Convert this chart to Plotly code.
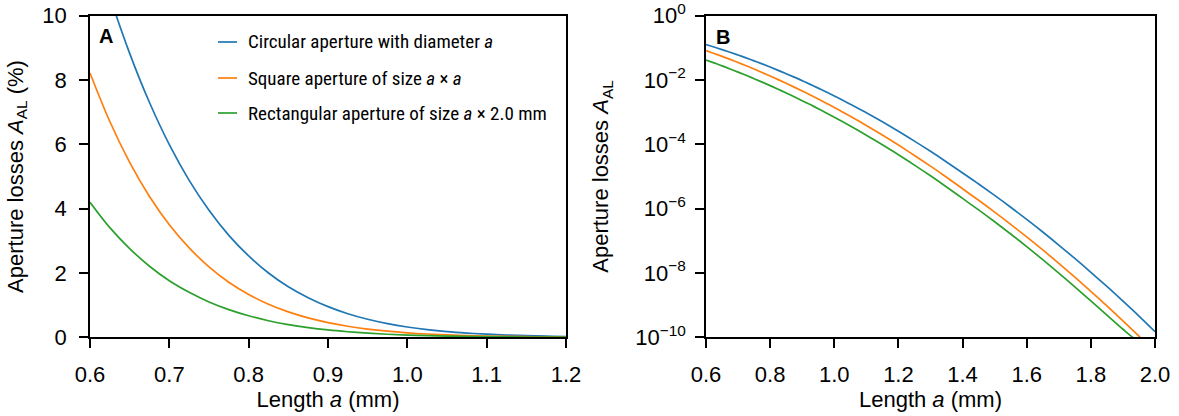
import plotly.graph_objects as go

# Length a (mm)
length_mm = [0.6, 0.625, 0.65, 0.675, 0.7, 0.725, 0.75, 0.775, 0.8, 0.825, 0.85, 0.875, 0.9, 0.925,
             0.95, 0.975, 1.0, 1.025, 1.05, 1.075, 1.1, 1.125, 1.15, 1.175, 1.2,
             1.25, 1.3, 1.35, 1.4, 1.45, 1.5, 1.55, 1.6, 1.65, 1.7, 1.75, 1.8, 1.85, 1.9, 1.95, 2.0]

# Aperture losses (fraction)
loss_circular = [0.126, 0.106, 0.0883, 0.073, 0.0599, 0.0488, 0.0395, 0.0317, 0.0253, 0.02, 0.0157, 0.0123, 0.00953, 0.00733,
                 0.0056, 0.00425, 0.0032, 0.00239, 0.00177, 0.00131, 0.000957, 0.000695, 0.000501, 0.000359, 0.000255,
                 0.000126, 6.07e-05, 2.83e-05, 1.29e-05, 5.85e-06, 2.58e-06, 1.11e-06, 4.63e-07, 1.88e-07, 7.39e-08,
                 2.83e-08, 1.05e-08, 3.80e-09, 1.33e-09, 4.56e-10, 1.50e-10]
loss_square = [0.0822, 0.0671, 0.0544, 0.0438, 0.035, 0.0278, 0.0219, 0.0171, 0.0133, 0.0103, 0.0079, 0.00602, 0.00456, 0.00343,
               0.00256, 0.0019, 0.0014, 0.00102, 0.000743, 0.000537, 0.000385, 0.000274, 0.000194, 0.000136, 9.49e-05,
               4.52e-05, 2.1e-05, 9.47e-06, 4.15e-06, 1.82e-06, 7.82e-07, 3.26e-07, 1.32e-07, 5.20e-08, 2.00e-08,
               7.42e-09, 2.68e-09, 9.45e-10, 3.23e-10, 1.08e-10, 3.48e-11]
loss_rect = [0.042, 0.0341, 0.0276, 0.0221, 0.0176, 0.014, 0.011, 0.00861, 0.00669, 0.00516, 0.00396, 0.00302, 0.00228, 0.00172,
             0.00128, 0.000949, 0.000699, 0.000512, 0.000372, 0.000268, 0.000192, 0.000137, 9.69e-05, 6.8e-05, 4.75e-05,
             2.26e-05, 1.05e-05, 4.73e-06, 2.08e-06, 9.14e-07, 3.91e-07, 1.63e-07, 6.61e-08, 2.60e-08, 9.96e-09,
             3.72e-09, 1.35e-09, 4.88e-10, 1.78e-10, 7.07e-11, 3.48e-11]

series_names = ["Circular aperture with diameter <i>a</i>",
                "Square aperture of size <i>a</i> \u00d7 <i>a</i>",
                "Rectangular aperture of size <i>a</i> \u00d7 2.0 mm"]
colors = ["#1f77b4", "#ff7f0e", "#2ca02c"]

lin_ticks = [0, 2, 4, 6, 8, 10]
xa_ticks = [0.6, 0.7, 0.8, 0.9, 1.0, 1.1, 1.2]
xb_ticks = [0.6, 0.8, 1.0, 1.2, 1.4, 1.6, 1.8, 2.0]
log_exps = [0, -2, -4, -6, -8, -10]

W, H = 1179, 416
def px(X):
    return X / W
def py(Y):
    return 1 - Y / H

FONT = "Liberation Sans"
LEGEND_FONT = "Roboto Condensed, Liberation Sans"
FS = 22

fig = go.Figure()
all_series = [loss_circular, loss_square, loss_rect]
for name, ys, col in zip(series_names, all_series, colors):
    fig.add_trace(go.Scatter(x=length_mm, y=[v * 100 for v in ys], mode="lines", name=name,
                             line=dict(color=col, width=1.7, shape="spline"), showlegend=False,
                             xaxis="x", yaxis="y"))
    fig.add_trace(go.Scatter(x=length_mm, y=ys, mode="lines", name=name,
                             line=dict(color=col, width=1.7, shape="spline"), showlegend=False,
                             xaxis="x2", yaxis="y2"))

ydom = [py(337.3), py(15.7)]
axis_common = dict(showline=True, linecolor="black", linewidth=1.7, mirror=True,
                   ticks="outside", ticklen=9, tickwidth=1.7, tickcolor="black",
                   showgrid=False, zeroline=False, automargin=False, ticklabeloverflow="allow",
                   tickfont=dict(family=FONT, size=FS, color="black"))

fig.update_layout(
    width=W, height=H,
    margin=dict(l=0, r=0, t=0, b=0),
    plot_bgcolor="white", paper_bgcolor="white",
    font=dict(family=FONT, size=FS, color="black"),
    xaxis=dict(domain=[px(90), px(566)], range=[0.6, 1.2], tickvals=xa_ticks,
               ticktext=[f"{v:.1f}" for v in xa_ticks], ticklabelstandoff=7,
               title=dict(text="Length <i>a</i> (mm)", font=dict(family=FONT, size=FS), standoff=6),
               anchor="y", **axis_common),
    yaxis=dict(domain=ydom, range=[0, 10], tickvals=lin_ticks,
               ticktext=[str(v) for v in lin_ticks], ticklabelstandoff=8,
               title=dict(text="Aperture losses <i>A</i><sub>AL</sub> (%)", font=dict(family=FONT, size=FS), standoff=13),
               anchor="x", **axis_common),
    xaxis2=dict(domain=[px(706), px(1155)], range=[0.6, 2.0], tickvals=xb_ticks,
                ticktext=[f"{v:.1f}" for v in xb_ticks], ticklabelstandoff=7,
                title=dict(text="Length <i>a</i> (mm)", font=dict(family=FONT, size=FS), standoff=6),
                anchor="y2", **axis_common),
    yaxis2=dict(domain=ydom, type="log", range=[-10, 0], tickvals=[10.0 ** e for e in log_exps],
                ticktext=["10<sup>" + (str(e) if e >= 0 else "\u2212" + str(-e)) + "</sup>" for e in log_exps],
                ticklabelstandoff=5,
                title=dict(text="Aperture losses <i>A</i><sub>AL</sub>", font=dict(family=FONT, size=FS), standoff=20),
                anchor="x2", **axis_common),
)

# Panel labels
fig.add_annotation(x=px(96.5), y=py(23), xref="paper", yref="paper", text="<b>A</b>",
                   showarrow=False, xanchor="left", yanchor="top", font=dict(family=FONT, size=20))
fig.add_annotation(x=px(714), y=py(24), xref="paper", yref="paper", text="<b>B</b>",
                   showarrow=False, xanchor="left", yanchor="top", font=dict(family=FONT, size=20))

# Legend (drawn inside panel A)
rows_y = [42, 78, 113]
for name, col, ry in zip(series_names, colors, rows_y):
    fig.add_shape(type="line", xref="paper", yref="paper", x0=px(218), x1=px(237),
                  y0=py(ry), y1=py(ry), line=dict(color=col, width=1.7))
    fig.add_annotation(x=px(246), y=py(ry), xref="paper", yref="paper", text=name,
                       showarrow=False, xanchor="left", yanchor="middle",
                       font=dict(family=LEGEND_FONT, size=19, color="black"))

# remove the default 8 px page margin so the figure fills the window exactly
fig.write_html("out.html", config={"displayModeBar": False},
               post_script="document.body.style.margin='0';")
